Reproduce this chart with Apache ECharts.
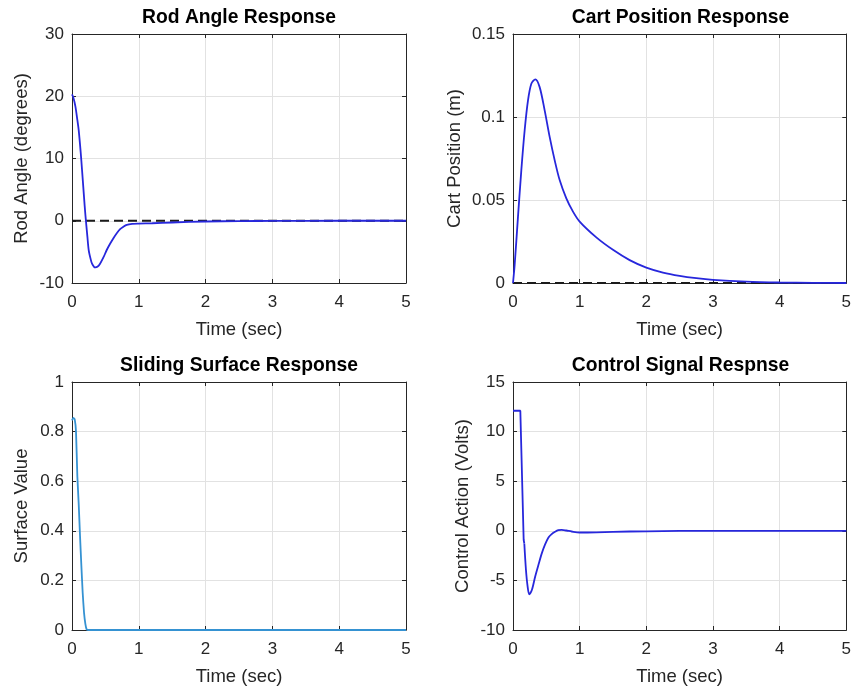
<!DOCTYPE html>
<html>
<head>
<meta charset="utf-8">
<script src="https://cdn.jsdelivr.net/npm/echarts@6/dist/echarts.min.js"></script>
<style>
html,body{margin:0;padding:0;background:#fff;}
#c{width:854px;height:689px;}
</style>
</head>
<body>
<div id="c"></div>
<script>
// ---- Data ----
const rodTime  = [0, 0.02, 0.05, 0.08, 0.1, 0.13, 0.15, 0.18, 0.2, 0.23, 0.25, 0.28, 0.3, 0.33, 0.35, 0.38, 0.42, 0.47, 0.52, 0.57, 0.62, 0.67, 0.72, 0.77, 0.82, 0.9, 1.0, 1.2, 1.5, 2.0, 2.5, 3.0, 4.0, 5.0];
const rodAngle = [20.3, 19.8, 18.4, 16.2, 14.6, 11.0, 8.2, 3.8, 1.0, -2.5, -4.7, -6.2, -6.9, -7.4, -7.5, -7.4, -6.9, -5.9, -4.7, -3.7, -2.8, -2.0, -1.35, -0.95, -0.65, -0.5, -0.45, -0.4, -0.28, -0.12, -0.06, -0.03, 0, 0];

const cartTime = [0, 0.025, 0.075, 0.125, 0.175, 0.225, 0.275, 0.335, 0.4, 0.475, 0.55, 0.625, 0.7, 0.8, 0.9, 1.0, 1.25, 1.5, 1.75, 2.0, 2.25, 2.5, 2.75, 3.0, 3.5, 4.0, 4.5, 5.0];
const cartPos  = [0, 0.011, 0.040, 0.068, 0.092, 0.110, 0.120, 0.1227, 0.118, 0.104, 0.088, 0.074, 0.062, 0.051, 0.043, 0.037, 0.0275, 0.020, 0.0138, 0.0093, 0.0063, 0.0043, 0.0029, 0.0019, 0.0008, 0.0003, 0.0001, 0];

const surfTime = [0, 0.02, 0.04, 0.06, 0.08, 0.1, 0.12, 0.14, 0.16, 0.18, 0.2, 0.22, 0.25, 0.5, 1, 5];
const surfVal  = [0.845, 0.855, 0.85, 0.80, 0.62, 0.51, 0.38, 0.26, 0.15, 0.07, 0.025, 0.002, 0, 0, 0, 0];

const ctrlTime = [0, 0.11, 0.16, 0.17, 0.194, 0.219, 0.244, 0.284, 0.333, 0.383, 0.433, 0.48, 0.53, 0.58, 0.63, 0.68, 0.73, 0.8, 0.88, 1.0, 1.25, 1.5, 2.0, 3.0, 5.0];
const ctrlVal  = [12.1, 12.1, -0.9, -1.3, -3.9, -5.6, -6.4, -5.95, -4.6, -3.4, -2.25, -1.4, -0.7, -0.33, -0.1, 0.07, 0.1, 0.03, -0.07, -0.17, -0.15, -0.1, -0.05, 0, 0];

const refTime = [0, 5];
const refVal  = [0, 0];

const titles  = ['Rod Angle Response', 'Cart Position Response', 'Sliding Surface Response', 'Control Signal Respnse'];
const yNames  = ['Rod Angle (degrees)', 'Cart Position (m)', 'Surface Value', 'Control Action (Volts)'];
const xName   = 'Time (sec)';
const yRanges = [[-10, 30, 10], [0, 0.15, 0.05], [0, 1, 0.2], [-10, 15, 5]];
const xRange  = [0, 5, 1];

// ---- Layout / style ----
const FONT = "'Liberation Sans', Arial, Helvetica, sans-serif";
const TXT = '#262626';
const GRIDC = '#e2e2e2';
const grids = [
  {left: 72,  top: 34,  width: 334, height: 249},
  {left: 513, top: 34,  width: 335, height: 249},
  {left: 72,  top: 382, width: 334, height: 248},
  {left: 513, top: 382, width: 335, height: 248}
];
const yNameGaps = [41, 49, 41, 41];

function pairs(t, v) { return t.map((x, i) => [x, v[i]]); }

const xAxes = [], yAxes = [], titleOpts = [];
grids.forEach((g, i) => {
  titleOpts.push({
    text: titles[i], left: g.left + g.width / 2, top: g.top - 26, textAlign: 'center', padding: 0,
    textStyle: {fontFamily: FONT, fontSize: 19.3, fontWeight: 'bold', color: '#000'}
  });
  xAxes.push({
    type: 'value', gridIndex: i, min: xRange[0], max: xRange[1], interval: xRange[2],
    name: xName, nameLocation: 'middle', nameGap: 37,
    nameTextStyle: {fontFamily: FONT, fontSize: 18.5, color: TXT},
    axisLine: {show: true, onZero: false, lineStyle: {color: TXT, width: 1}},
    axisTick: {show: true, inside: true, length: 4, lineStyle: {color: TXT}},
    axisLabel: {fontFamily: FONT, fontSize: 17, color: TXT, margin: 11},
    splitLine: {show: true, lineStyle: {color: GRIDC, width: 1}}
  });
  xAxes.push({
    type: 'value', gridIndex: i, position: 'top', min: xRange[0], max: xRange[1], interval: xRange[2],
    axisLine: {show: true, onZero: false, lineStyle: {color: TXT, width: 1}},
    axisTick: {show: true, inside: true, length: 4, lineStyle: {color: TXT}},
    axisLabel: {show: false}, splitLine: {show: false}
  });
  const yr = yRanges[i];
  yAxes.push({
    type: 'value', gridIndex: i, min: yr[0], max: yr[1], interval: yr[2],
    name: yNames[i], nameLocation: 'middle', nameGap: yNameGaps[i],
    nameTextStyle: {fontFamily: FONT, fontSize: 18.5, color: TXT},
    axisLine: {show: true, onZero: false, lineStyle: {color: TXT, width: 1}},
    axisTick: {show: true, inside: true, length: 4, lineStyle: {color: TXT}},
    axisLabel: {fontFamily: FONT, fontSize: 17, color: TXT, margin: 8},
    splitLine: {show: true, lineStyle: {color: GRIDC, width: 1}}
  });
  yAxes.push({
    type: 'value', gridIndex: i, position: 'right', min: yr[0], max: yr[1], interval: yr[2],
    axisLine: {show: true, onZero: false, lineStyle: {color: TXT, width: 1}},
    axisTick: {show: true, inside: true, length: 4, lineStyle: {color: TXT}},
    axisLabel: {show: false}, splitLine: {show: false}
  });
});

function line(i, data, color, opts) {
  return Object.assign({
    type: 'line', xAxisIndex: i * 2, yAxisIndex: i * 2, data: data,
    showSymbol: false, symbol: 'none', animation: false, silent: true,
    lineStyle: {color: color, width: 1.8}
  }, opts || {});
}
const BLUE = '#2727dc';
const dashStyle = {color: '#1a1a1a', width: 1.8, type: [9, 5]};

// control signal: saturated step part drawn straight, remainder smoothed
const ctrlSplit = 3;
const ctrlPairs = pairs(ctrlTime, ctrlVal);

const series = [
  line(0, pairs(refTime, refVal), '#000', {lineStyle: dashStyle, z: 2}),
  line(0, pairs(rodTime, rodAngle), BLUE, {smooth: 0.3, z: 3}),
  line(1, pairs(refTime, refVal), '#000', {lineStyle: dashStyle, z: 2}),
  line(1, pairs(cartTime, cartPos), BLUE, {smooth: 0.3, z: 3}),
  line(2, pairs(surfTime, surfVal), '#3592d2', {smooth: 0.15, z: 3}),
  line(3, ctrlPairs.slice(0, ctrlSplit + 1), BLUE, {smooth: false, z: 3}),
  line(3, ctrlPairs.slice(ctrlSplit), BLUE, {smooth: 0.3, z: 3})
];

const chart = echarts.init(document.getElementById('c'), null, {renderer: 'canvas'});
chart.setOption({
  backgroundColor: '#fff',
  animation: false,
  title: titleOpts,
  grid: grids,
  xAxis: xAxes,
  yAxis: yAxes,
  series: series
});
</script>
</body>
</html>
